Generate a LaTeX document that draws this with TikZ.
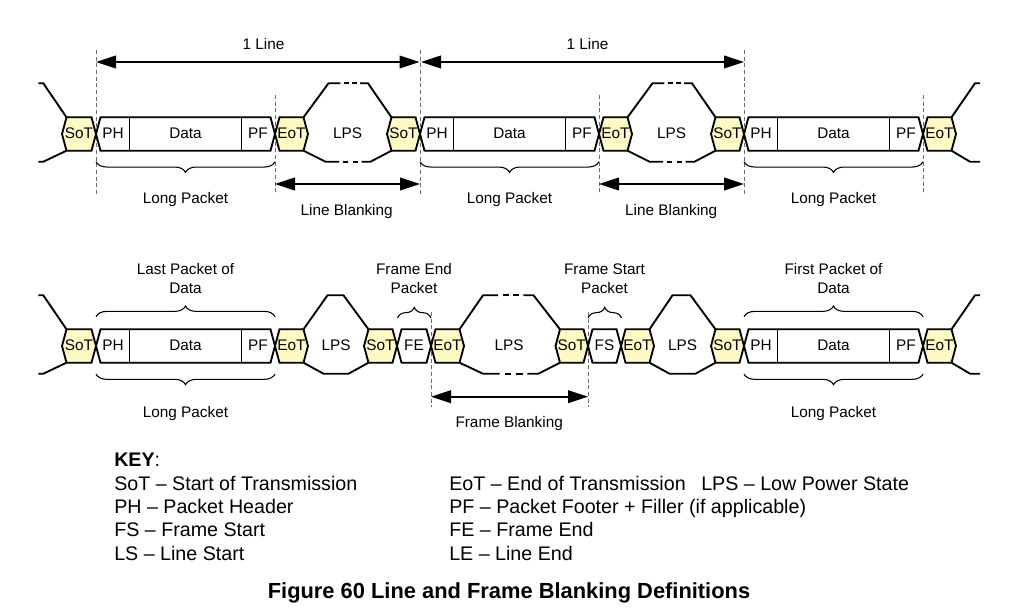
\documentclass[tikz,border=0pt]{standalone}
\usepackage{fontspec}
\setmainfont{Liberation Sans}
\usetikzlibrary{arrows.meta,decorations.pathreplacing}
\definecolor{hexfill}{RGB}{255,250,195}
\definecolor{dgray}{RGB}{110,110,110}
\tikzset{
 shapeline/.style={line width=1.4pt, draw=black},
 hexbox/.style={shapeline, fill=hexfill},
 lbl/.style={font=\fontsize{11.5pt}{14pt}\selectfont, inner sep=0pt, text=black, align=center},
 bndline/.style={draw=dgray, line width=0.7pt, dash pattern=on 3pt off 2pt},
 dimarrow/.style={line width=1.3pt, {Triangle[length=15pt,width=9.5pt]}-{Triangle[length=15pt,width=9.5pt]}},
 bracepath/.style={decorate, decoration={brace, amplitude=8pt}, line width=0.8pt},
 keytxt/.style={font=\fontsize{14.75pt}{17pt}\selectfont, anchor=base west, inner sep=0pt},
}
\newcommand\hexat[3]{\filldraw[hexbox] ({#1},{#3}) -- ({#1+4.5},{#3-16.7}) -- ({#2-4.5},{#3-16.7}) -- ({#2},{#3}) -- ({#2-4.5},{#3+16.7}) -- ({#1+4.5},{#3+16.7}) -- cycle;}
\newcommand\pktat[3]{\draw[shapeline] ({#1},{#3}) -- ({#1+4.5},{#3-16.7}) -- ({#2-4.5},{#3-16.7}) -- ({#2},{#3}) -- ({#2-4.5},{#3+16.7}) -- ({#1+4.5},{#3+16.7}) -- cycle;}
\newcommand\longpktat[2]{\pktat{#1}{#1+179}{#2}\draw[shapeline] ({#1+33.5},{#2-16.7}) -- ({#1+33.5},{#2+16.7}) ({#1+145.5},{#2-16.7}) -- ({#1+145.5},{#2+16.7});}
% #1 c0, #2 c1, #3 band edge y, #4 flat start, #5 flat end, #6 flat y
\newcommand\humpsolid[6]{\draw[shapeline] ({#1},{#3}) -- ({#4},{#6}) -- ({#5},{#6}) -- ({#2},{#3});}
\newcommand\humpdash[6]{%
 \draw[shapeline] ({#1},{#3}) -- ({#4},{#6}) -- ({#4+0.3*(#5-#4)},{#6});
 \draw[shapeline] ({#4+0.39*(#5-#4)},{#6}) -- ({#4+0.51*(#5-#4)},{#6});
 \draw[shapeline] ({#4+0.6*(#5-#4)},{#6}) -- ({#4+0.72*(#5-#4)},{#6});
 \draw[shapeline] ({#4+0.8*(#5-#4)},{#6}) -- ({#5},{#6}) -- ({#2},{#3});}
\begin{document}
\begin{tikzpicture}[x=0.75pt,y=-0.75pt]
\useasboundingbox (0,0) rectangle (1035,610);

% ---------- boundary dashed lines ----------
\foreach \bx/\by in {96/50,275/95,420/50,599/95,744/50,923/95}{
  \draw[bndline] (\bx,\by) -- (\bx,195);}
\draw[bndline] (431,312) -- (431,407);
\draw[bndline] (588,312) -- (588,407);

% ---------- top row (yc = 134) ----------
\draw[shapeline] (38.3,83.3) -- (43.3,83.3) -- (66.5,117.3);
\draw[shapeline] (38.3,161.7) -- (43.3,161.7) -- (66.5,150.7);
\hexat{62}{96}{134}
\longpktat{96}{134}
\hexat{275}{308}{134}
\humpdash{303.5}{391.5}{117.3}{328.5}{368}{83.3}
\humpdash{303.5}{391.5}{150.7}{325.5}{370.5}{161.7}
\hexat{387}{420}{134}
\longpktat{420}{134}
\hexat{599}{632}{134}
\humpdash{627.5}{715.5}{117.3}{652.5}{692}{83.3}
\humpdash{627.5}{715.5}{150.7}{649.5}{694.5}{161.7}
\hexat{711}{744}{134}
\longpktat{744}{134}
\hexat{923}{956}{134}
\draw[shapeline] (951.5,117.3) -- (975,83.3) -- (980,83.3);
\draw[shapeline] (951.5,150.7) -- (970,161.7) -- (980,161.7);

% ---------- bottom row (yc = 346) ----------
\draw[shapeline] (38.3,295.3) -- (43.3,295.3) -- (66.5,329.3);
\draw[shapeline] (38.3,373.7) -- (43.3,373.7) -- (66.5,362.7);
\hexat{62}{96}{346}
\longpktat{96}{346}
\hexat{275}{308}{346}
\humpsolid{303.5}{368.5}{329.3}{327.5}{343.5}{295.3}
\humpsolid{303.5}{368.5}{362.7}{323.5}{348.5}{373.7}
\hexat{364}{397}{346}
\pktat{397}{431}{346}
\hexat{431}{464}{346}
\humpdash{459.5}{560}{329.3}{483}{533.5}{295.3}
\humpdash{459.5}{560}{362.7}{483}{538.5}{373.7}
\hexat{555.5}{588}{346}
\pktat{588}{621}{346}
\hexat{621}{654}{346}
\humpsolid{649.5}{715.5}{329.3}{672.5}{690.5}{295.3}
\humpsolid{649.5}{715.5}{362.7}{669.5}{695.5}{373.7}
\hexat{711}{744}{346}
\longpktat{744}{346}
\hexat{923}{956}{346}
\draw[shapeline] (951.5,329.3) -- (975,295.3) -- (980,295.3);
\draw[shapeline] (951.5,362.7) -- (970,373.7) -- (980,373.7);

% ---------- braces ----------
\draw[bracepath] (275,161.7) -- (96,161.7);
\draw[bracepath] (599,161.7) -- (420,161.7);
\draw[bracepath] (923,161.7) -- (744,161.7);
\draw[bracepath] (96,316.7) -- (275,316.7);
\draw[bracepath] (275,374) -- (96,374);
\draw[bracepath] (397.5,318) -- (431,318);
\draw[bracepath] (588,318) -- (621.5,318);
\draw[bracepath] (744,316.7) -- (923,316.7);
\draw[bracepath] (923,374) -- (744,374);

% ---------- dimension arrows ----------
\coordinate (la1) at (96,62);   \coordinate (lb1) at (419.5,62);
\coordinate (la2) at (421,62);  \coordinate (lb2) at (744,62);
\coordinate (ba1) at (275,184); \coordinate (bb1) at (420,184);
\coordinate (ba2) at (599,184); \coordinate (bb2) at (744,184);
\coordinate (fa) at (431,396.7); \coordinate (fb) at (588,396.7);
\draw[dimarrow] (la1) -- (lb1);
\draw[dimarrow] (la2) -- (lb2);
\draw[dimarrow] (ba1) -- (bb1);
\draw[dimarrow] (ba2) -- (bb2);
\draw[dimarrow] (fa) -- (fb);

% ---------- labels top row ----------
\node[lbl] (l1a) at (263.5,43.8) {1 Line};
\node[lbl] (l1b) at (587.5,43.8) {1 Line};
\node[lbl] (t1) at (79,133.5) {SoT};
\node[lbl] (t2) at (113,133.5) {PH};
\node[lbl] (t3) at (185.5,133.5) {Data};
\node[lbl] (t4) at (258,133.5) {PF};
\node[lbl] (t5) at (291.5,133.5) {EoT};
\node[lbl] (t6) at (347.5,133.5) {LPS};
\node[lbl] (t7) at (403.5,133.5) {SoT};
\node[lbl] (t8) at (437,133.5) {PH};
\node[lbl] (t9) at (509.5,133.5) {Data};
\node[lbl] (t10) at (582,133.5) {PF};
\node[lbl] (t11) at (615.5,133.5) {EoT};
\node[lbl] (t12) at (671.5,133.5) {LPS};
\node[lbl] (t13) at (727.5,133.5) {SoT};
\node[lbl] (t14) at (761,133.5) {PH};
\node[lbl] (t15) at (833.5,133.5) {Data};
\node[lbl] (t16) at (906,133.5) {PF};
\node[lbl] (t17) at (939.5,133.5) {EoT};
\node[lbl] (lp1) at (185.5,200) {Long Packet};
\node[lbl] (lp2) at (509.5,200) {Long Packet};
\node[lbl] (lp3) at (833.5,200) {Long Packet};
\node[lbl] (lbk1) at (346.7,211.7) {Line Blanking};
\node[lbl] (lbk2) at (671.2,211.7) {Line Blanking};

% ---------- labels bottom row ----------
\node[lbl] (u1) at (185.5,278.5) {Last Packet of\\Data};
\node[lbl] (u2) at (414,278.5) {Frame End\\Packet};
\node[lbl] (u3) at (604.5,278.5) {Frame Start\\Packet};
\node[lbl] (u4) at (833.5,278.5) {First Packet of\\Data};
\node[lbl] (s1) at (79,345.5) {SoT};
\node[lbl] (s2) at (113,345.5) {PH};
\node[lbl] (s3) at (185.5,345.5) {Data};
\node[lbl] (s4) at (258,345.5) {PF};
\node[lbl] (s5) at (291.5,345.5) {EoT};
\node[lbl] (s6) at (336,345.5) {LPS};
\node[lbl] (s7) at (380.5,345.5) {SoT};
\node[lbl] (s8) at (414,345.5) {FE};
\node[lbl] (s9) at (447.5,345.5) {EoT};
\node[lbl] (s10) at (509,345.5) {LPS};
\node[lbl] (s11) at (571.7,345.5) {SoT};
\node[lbl] (s12) at (604.5,345.5) {FS};
\node[lbl] (s13) at (637.5,345.5) {EoT};
\node[lbl] (s14) at (682.5,345.5) {LPS};
\node[lbl] (s15) at (727.5,345.5) {SoT};
\node[lbl] (s16) at (761,345.5) {PH};
\node[lbl] (s17) at (833.5,345.5) {Data};
\node[lbl] (s18) at (906,345.5) {PF};
\node[lbl] (s19) at (939.5,345.5) {EoT};
\node[lbl] (lp4) at (185.5,413.3) {Long Packet};
\node[lbl] (lp5) at (833.5,413.3) {Long Packet};
\node[lbl] (fbk) at (509.2,423.3) {Frame Blanking};

% ---------- key ----------
\node[keytxt] (k0) at (114,466.7) {\textbf{KEY}:};
\node[keytxt] (k1) at (114,490) {SoT – Start of Transmission};
\node[keytxt] (k2) at (114,513.3) {PH – Packet Header};
\node[keytxt] (k3) at (114,536.7) {FS – Frame Start};
\node[keytxt] (k4) at (114,560) {LS – Line Start};
\node[keytxt] (k5) at (449,490) {EoT – End of Transmission};
\node[keytxt] (k6) at (449,513.3) {PF – Packet Footer + Filler (if applicable)};
\node[keytxt] (k7) at (449,536.7) {FE – Frame End};
\node[keytxt] (k8) at (449,560) {LE – Line End};
\node[keytxt] (k9) at (701,490) {LPS – Low Power State};

% ---------- title ----------
\node[font=\fontsize{16.4pt}{19pt}\selectfont\bfseries, anchor=base, inner sep=0pt] (title) at (509,598) {Figure 60 Line and Frame Blanking Definitions};
\end{tikzpicture}
\end{document}
